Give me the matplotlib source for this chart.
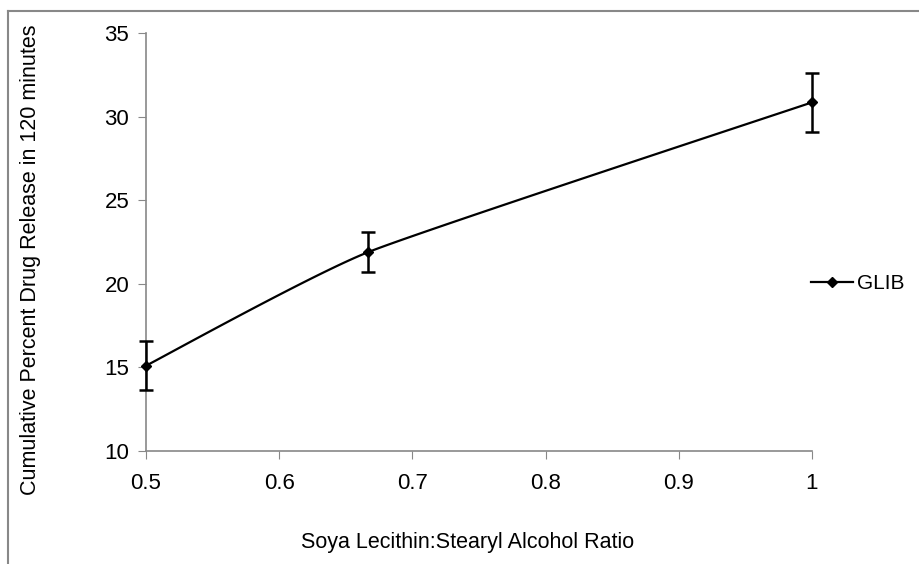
import numpy as np
import matplotlib
matplotlib.use('Agg')
import matplotlib.pyplot as plt
from matplotlib.lines import Line2D

plt.rcParams['font.family'] = ['Liberation Sans', 'DejaVu Sans']

# Data
ratio = [0.5, 0.667, 1.0]
release = [15.1, 21.9, 30.85]
err = [1.47, 1.2, 1.77]
x_ticks = [0.5, 0.6, 0.7, 0.8, 0.9, 1.0]
x_ticklabels = ['0.5', '0.6', '0.7', '0.8', '0.9', '1']
y_ticks = [10, 15, 20, 25, 30, 35]


def smooth(x, y, n=40, k=12):
    # lightly smoothed line through the points (like Excel's smoothed line)
    x = np.asarray(x, float)
    y = np.asarray(y, float)
    px = np.concatenate([[x[0]], x, [x[-1]]])
    py = np.concatenate([[y[0]], y, [y[-1]]])
    xs, ys = [], []
    t = np.linspace(0, 1, n)
    for i in range(1, len(px) - 2):
        p0, p1, p2, p3 = [np.array([px[j], py[j]]) for j in range(i - 1, i + 3)]
        c1 = p1 + (p2 - p0) / k
        c2 = p2 - (p3 - p1) / k
        pts = ((1 - t)**3)[:, None] * p1 + (3 * (1 - t)**2 * t)[:, None] * c1 \
            + (3 * (1 - t) * t**2)[:, None] * c2 + (t**3)[:, None] * p2
        xs.extend(pts[:, 0])
        ys.extend(pts[:, 1])
    return xs, ys


fig = plt.figure(figsize=(9.2, 5.64), dpi=100)
ax = fig.add_axes([0.1587, 0.2004, 0.7239, 0.7411])

sx, sy = smooth(ratio, release)
ax.plot(sx, sy, color='black', lw=1.6, zorder=2, clip_on=False)
eb = ax.errorbar(ratio, release, yerr=err, fmt='D', color='black', ms=5.5,
                 elinewidth=1.8, capsize=5, capthick=1.8, zorder=3)
for art in [eb[0], *eb[1], *eb[2]]:
    art.set_clip_on(False)

ax.set_xlim(0.5, 1.0)
ax.set_ylim(10, 35)
ax.set_xticks(x_ticks)
ax.set_xticklabels(x_ticklabels)
ax.set_yticks(y_ticks)
ax.tick_params(labelsize=16, colors='#888888', labelcolor='black', length=6, pad=10)
ax.tick_params(axis='y', pad=6)
for s in ['top', 'right']:
    ax.spines[s].set_visible(False)
for s in ['left', 'bottom']:
    ax.spines[s].set_color('#888888')
    ax.spines[s].set_linewidth(1.2)

ax.set_xlabel('Soya Lecithin:Stearyl Alcohol Ratio', fontsize=15.5)
ax.set_ylabel('Cumulative Percent Drug Release in 120 minutes', fontsize=15.5)
ax.xaxis.set_label_coords(0.4835, -0.22)
ax.yaxis.set_label_coords(-0.174, 0.457)
ax.xaxis.label.set_va('center')
ax.yaxis.label.set_va('center')

handle = Line2D([], [], color='black', marker='D', ms=5, lw=1.6)
fig.legend([handle], ['GLIB'], loc='center left', bbox_to_anchor=(0.882, 0.497),
           frameon=False, fontsize=15, handlelength=2.0, handletextpad=0.2,
           borderpad=0, borderaxespad=0)

# outer chart frame
fig.add_artist(Line2D([0.0087, 0.0087], [0, 0.9805], color='#888888', lw=1.5))
fig.add_artist(Line2D([0.0087, 1.0], [0.9805, 0.9805], color='#888888', lw=1.5))

fig.savefig('out.png', dpi=100)
